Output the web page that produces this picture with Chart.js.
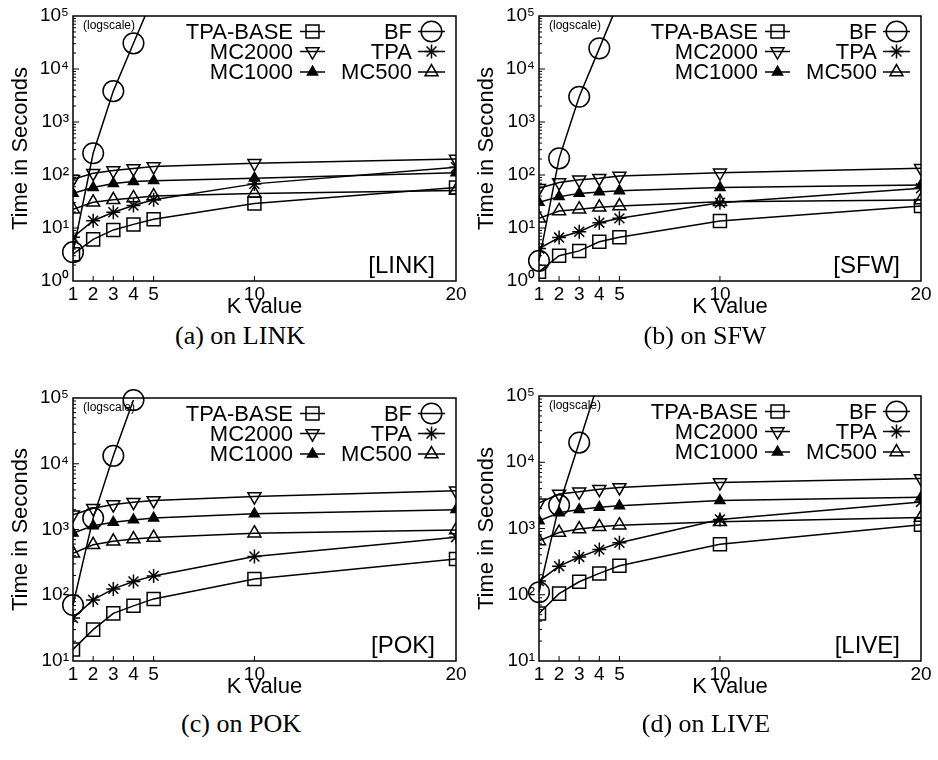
<!DOCTYPE html>
<html>
<head>
<meta charset="utf-8">
<script src="https://cdn.jsdelivr.net/npm/chart.js@4/dist/chart.umd.min.js"></script>
<style>
  body { margin: 0; background: #fff; width: 938px; height: 760px; position: relative; overflow: hidden; }
  canvas { position: absolute; }
  .caption { position: absolute; width: 300px; text-align: center; font-family: "Liberation Serif", "Times New Roman", serif; font-size: 26px; color: #000; }
</style>
</head>
<body>
<canvas id="link" width="469" height="320" style="left:0px;top:0px"></canvas>
<canvas id="sfw" width="469" height="320" style="left:466px;top:0px"></canvas>
<canvas id="pok" width="469" height="320" style="left:0px;top:380px"></canvas>
<canvas id="live" width="469" height="320" style="left:466px;top:380px"></canvas>
<div class="caption" style="left:90px;top:321px">(a) on LINK</div>
<div class="caption" style="left:555px;top:321px">(b) on SFW</div>
<div class="caption" style="left:91px;top:709px">(c) on POK</div>
<div class="caption" style="left:556px;top:709px">(d) on LIVE</div>
<script>
const kValues = [1, 2, 3, 4, 5, 10, 20];
const xTicks = [1, 2, 3, 4, 5, 10, 20];

// LINK
const linkTpaBase = [3.2, 6.1, 9.2, 11.7, 14.6, 29, 58];
const linkMc2000 = [83, 108, 121, 132, 144, 166, 200];
const linkMc1000 = [45, 58, 69, 75, 78, 87, 110];
const linkMc500 = [22.6, 30.5, 34, 37, 40, 45, 51];
const linkTpa = [6.7, 13.7, 19.8, 26.5, 34, 68, 140];
const linkBf = [3.5, 257, 3830, 30500, 240000];

// SFW
const sfwTpaBase = [1.5, 3.0, 3.7, 5.5, 6.7, 13.5, 26];
const sfwMc2000 = [56, 72, 81, 87, 96, 110, 134];
const sfwMc1000 = [30.5, 39, 45, 48, 50.5, 58, 65];
const sfwMc500 = [15.2, 21, 22.6, 24.6, 26, 31.4, 33.8];
const sfwTpa = [4.1, 6.6, 8.5, 12.6, 15.2, 30, 56];
const sfwBf = [2.4, 206, 3000, 24500, 200000];

// POK
const pokTpaBase = [15, 30, 53, 69, 88, 177, 356];
const pokMc2000 = [1670, 2100, 2400, 2600, 2770, 3170, 3870];
const pokMc1000 = [880, 1140, 1285, 1400, 1490, 1730, 2000];
const pokMc500 = [436, 585, 660, 715, 755, 880, 985];
const pokTpa = [45, 85, 125, 162, 197, 388, 764];
const pokBf = [71, 1490, 13200, 93000];

// LIVE
const liveTpaBase = [52, 104, 157, 210, 274, 580, 1140];
const liveMc2000 = [2450, 3320, 3580, 3920, 4160, 4940, 5680];
const liveMc1000 = [1310, 1730, 1930, 2090, 2200, 2640, 2970];
const liveMc500 = [650, 870, 980, 1060, 1120, 1260, 1470];
const liveTpa = [161, 270, 372, 480, 610, 1370, 2520];
const liveBf = [109, 2250, 19800, 180000];

const FONT = '"Liberation Sans", Arial, Helvetica, sans-serif';
const SUP = ['\u2070', '\u00b9', '\u00b2', '\u00b3', '\u2074', '\u2075'];

// marker looks, shared by plot and legend
const styles = {
  'TPA-BASE': { pointStyle: 'rect', radius: 9.2, rotation: 0, fill: false },
  'MC2000': { pointStyle: 'triangle', radius: 7.5, rotation: 180, fill: false },
  'MC1000': { pointStyle: 'triangle', radius: 5.8, rotation: 0, fill: true },
  'BF': { pointStyle: 'circle', radius: 10.3, rotation: 0, fill: false },
  'TPA': { pointStyle: 'star', radius: 7, rotation: 0, fill: false },
  'MC500': { pointStyle: 'triangle', radius: 7.5, rotation: 0, fill: false },
};
const legendCols = [['TPA-BASE', 'MC2000', 'MC1000'], ['BF', 'TPA', 'MC500']];

function series(label, values, extra) {
  const s = styles[label];
  return Object.assign({
    label: label,
    data: values.map((v, i) => ({ x: kValues[i], y: v })),
    borderColor: '#000',
    borderWidth: 1.5,
    pointStyle: s.pointStyle,
    pointRotation: s.rotation,
    pointRadius: s.radius,
    pointBorderColor: '#000',
    pointBorderWidth: 1.5,
    pointBackgroundColor: s.fill ? '#000' : 'rgba(0,0,0,0)',
    tension: 0,
  }, extra || {});
}

const gnuplotFrame = {
  id: 'gnuplotFrame',
  afterDraw(chart, args, opts) {
    const { ctx, chartArea: a } = chart;
    const xs = chart.scales.x, ys = chart.scales.y;
    ctx.save();
    ctx.strokeStyle = '#000';
    ctx.lineWidth = 1.5;
    ctx.strokeRect(a.left, a.top, a.right - a.left, a.bottom - a.top);

    // inward tick marks
    ctx.lineWidth = 1;
    ctx.beginPath();
    xTicks.slice(1, -1).forEach(v => {
      const px = xs.getPixelForValue(v);
      ctx.moveTo(px, a.bottom);
      ctx.lineTo(px, a.bottom - 5);
    });
    const eMin = Math.round(Math.log10(ys.min)), eMax = Math.round(Math.log10(ys.max));
    for (let e = eMin; e < eMax; e++) {
      for (let m = 1; m <= 9; m++) {
        if (m === 1 && e === eMin) continue;
        const py = ys.getPixelForValue(m * Math.pow(10, e));
        ctx.moveTo(a.left, py);
        ctx.lineTo(a.left + (m === 1 ? 6 : 3), py);
      }
    }
    ctx.stroke();

    // small note and dataset tag
    ctx.fillStyle = '#000';
    ctx.font = '12px ' + FONT;
    ctx.textBaseline = 'middle';
    ctx.textAlign = 'left';
    ctx.fillText('(logscale)', a.left + 10, a.top + 10);
    ctx.font = '24px ' + FONT;
    ctx.textAlign = 'right';
    ctx.fillText(opts.tag, a.right - 21, a.bottom - 15);

    // legend: text, then line sample with marker
    ctx.font = '22px ' + FONT;
    const colText = [a.right - 163, a.right - 44];
    const colLine = [[a.right - 156, a.right - 131], [a.right - 38, a.right - 11]];
    const rows = [a.top + 15.5, a.top + 35.5, a.top + 56];
    legendCols.forEach((col, c) => {
      col.forEach((label, r) => {
        const y = rows[r];
        const s = styles[label];
        ctx.fillStyle = '#000';
        ctx.fillText(label, colText[c], y + 1);
        ctx.lineWidth = 1.5;
        ctx.beginPath();
        ctx.moveTo(colLine[c][0], y);
        ctx.lineTo(colLine[c][1], y);
        ctx.stroke();
        ctx.fillStyle = s.fill ? '#000' : 'rgba(0,0,0,0)';
        Chart.helpers.drawPoint(ctx, {
          pointStyle: s.pointStyle, rotation: s.rotation, radius: s.radius, borderWidth: 1.5,
        }, (colLine[c][0] + colLine[c][1]) / 2, y);
      });
    });
    ctx.restore();
  },
};

function makePanel(id, tag, yMin, d, padding, bfClip) {
  new Chart(document.getElementById(id), {
    type: 'line',
    data: {
      datasets: [
        series('TPA-BASE', d.tpaBase),
        series('MC2000', d.mc2000),
        series('MC1000', d.mc1000),
        series('MC500', d.mc500),
        series('TPA', d.tpa),
        series('BF', d.bf, { clip: bfClip }),
      ],
    },
    options: {
      responsive: false,
      animation: false,
      devicePixelRatio: 1,
      layout: { padding: padding },
      plugins: {
        legend: { display: false },
        tooltip: { enabled: false },
        gnuplotFrame: { tag: tag },
      },
      scales: {
        x: {
          type: 'linear',
          min: 1,
          max: 20,
          grid: { display: false, drawTicks: false },
          border: { display: false },
          afterBuildTicks: (s) => { s.ticks = xTicks.map(v => ({ value: v })); },
          afterFit: (s) => { s.height = 39; },
          ticks: { autoSkip: false, maxRotation: 0, padding: 2, color: '#000', font: { family: FONT, size: 19 } },
          title: { display: true, text: 'K Value', color: '#000', font: { family: FONT, size: 22 }, padding: 0 },
        },
        y: {
          type: 'logarithmic',
          min: yMin,
          max: 100000,
          grid: { display: false, drawTicks: false },
          border: { display: false },
          afterBuildTicks: (s) => {
            const t = [];
            for (let v = yMin; v <= 100000; v *= 10) t.push({ value: v });
            s.ticks = t;
          },
          afterFit: (s) => { s.width = 73; },
          ticks: {
            padding: 4,
            color: '#000',
            font: { family: FONT, size: 19 },
            callback: (v) => '10' + SUP[Math.round(Math.log10(v))],
          },
          title: { display: true, text: 'Time in Seconds', color: '#000', font: { family: FONT, size: 22 }, padding: { top: 8 } },
        },
      },
    },
    plugins: [gnuplotFrame],
  });
}

const clipTop = { left: 12, right: 12, bottom: 12, top: 0 };

makePanel('link', '[LINK]', 1,
  { tpaBase: linkTpaBase, mc2000: linkMc2000, mc1000: linkMc1000, mc500: linkMc500, tpa: linkTpa, bf: linkBf },
  { left: 0, top: 16, right: 13, bottom: 0 }, clipTop);
makePanel('sfw', '[SFW]', 1,
  { tpaBase: sfwTpaBase, mc2000: sfwMc2000, mc1000: sfwMc1000, mc500: sfwMc500, tpa: sfwTpa, bf: sfwBf },
  { left: 0, top: 16, right: 14, bottom: 0 }, clipTop);
makePanel('pok', '[POK]', 10,
  { tpaBase: pokTpaBase, mc2000: pokMc2000, mc1000: pokMc1000, mc500: pokMc500, tpa: pokTpa, bf: pokBf },
  { left: 0, top: 18, right: 13, bottom: 0 }, 12);
makePanel('live', '[LIVE]', 10,
  { tpaBase: liveTpaBase, mc2000: liveMc2000, mc1000: liveMc1000, mc500: liveMc500, tpa: liveTpa, bf: liveBf },
  { left: 0, top: 16, right: 14, bottom: 0 }, clipTop);
</script>
</body>
</html>
